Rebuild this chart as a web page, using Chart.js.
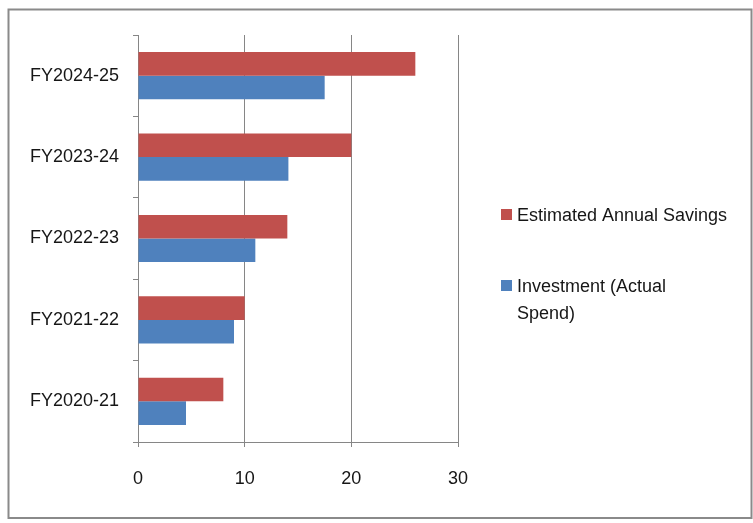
<!DOCTYPE html>
<html>
<head>
<meta charset="utf-8">
<script src="https://cdn.jsdelivr.net/npm/chart.js@4.4.1/dist/chart.umd.min.js"></script>
<style>
  html, body { margin: 0; padding: 0; background: #fff; }
  #wrap { position: relative; width: 753px; height: 523px; }
</style>
</head>
<body>
<div id="wrap"><canvas id="c" width="753" height="523"></canvas></div>
<script>
// Fiscal years, listed top to bottom as drawn
const categories = ['FY2024-25', 'FY2023-24', 'FY2022-23', 'FY2021-22', 'FY2020-21'];
// Estimated annual savings per year
const savings = [26, 20, 14, 10, 8];
// Investment (actual spend) per year
const investment = [17.5, 14.1, 11, 9, 4.5];
// Value axis ticks
const xTicks = [0, 10, 20, 30];

const FONT = '"Liberation Sans", Arial, sans-serif';
const TEXT = '#161616';
const GRID = '#868686';

// Outer frame around the whole chart
const framePlugin = {
  id: 'frame',
  beforeDraw(chart) {
    const ctx = chart.ctx;
    ctx.save();
    ctx.fillStyle = '#fff';
    ctx.fillRect(0, 0, chart.width, chart.height);
    ctx.strokeStyle = '#8a8a8a';
    ctx.lineWidth = 2;
    ctx.strokeRect(8.5, 9.5, 743, 508.5);
    ctx.restore();
  }
};

// Legend on the right; labels longer than the first entry wrap onto a new line
const sideLegend = {
  id: 'sideLegend',
  afterDraw(chart) {
    const ctx = chart.ctx;
    const x0 = 501, textX = 517, lineH = 27;
    const tops = [221, 292];
    ctx.save();
    ctx.font = '18px ' + FONT;
    ctx.textBaseline = 'alphabetic';
    const maxW = ctx.measureText(chart.data.datasets[0].label).width + 0.5;
    chart.data.datasets.forEach((ds, i) => {
      const words = ds.label.split(' ');
      const lines = [];
      let cur = '';
      words.forEach(w => {
        const t = cur ? cur + ' ' + w : w;
        if (ctx.measureText(t).width > maxW && cur) { lines.push(cur); cur = w; }
        else cur = t;
      });
      if (cur) lines.push(cur);
      const base = tops[i];
      ctx.fillStyle = ds.backgroundColor;
      ctx.fillRect(x0, base - 12, 11, 11);
      ctx.fillStyle = TEXT;
      lines.forEach((ln, k) => ctx.fillText(ln, textX, base + k * lineH));
    });
    ctx.restore();
  }
};

new Chart(document.getElementById('c'), {
  type: 'bar',
  data: {
    labels: categories,
    datasets: [
      { label: 'Estimated Annual Savings', data: savings, backgroundColor: '#C0504D',
        categoryPercentage: 0.58, barPercentage: 1.0 },
      { label: 'Investment (Actual Spend)', data: investment, backgroundColor: '#4F81BD',
        categoryPercentage: 0.58, barPercentage: 1.0 }
    ]
  },
  options: {
    indexAxis: 'y',
    responsive: false,
    animation: false,
    devicePixelRatio: 1,
    layout: { padding: { left: 0, right: 295, top: 35, bottom: 0 } },
    plugins: { legend: { display: false }, tooltip: { enabled: false } },
    scales: {
      x: {
        min: 0, max: 30,
        afterBuildTicks(scale) { scale.ticks = xTicks.map(v => ({ value: v })); },
        afterFit(scale) { scale.height = 81; },
        grid: { color: GRID, lineWidth: 1, tickLength: 5, drawTicks: true },
        border: { display: true, color: GRID, width: 1 },
        ticks: { color: TEXT, font: { family: FONT, size: 18 }, padding: 21 }
      },
      y: {
        afterFit(scale) { scale.width = 138; },
        grid: { drawOnChartArea: false, color: GRID, tickLength: 5, offset: true },
        border: { display: true, color: GRID, width: 1 },
        ticks: { color: TEXT, font: { family: FONT, size: 18 }, padding: 14 }
      }
    }
  },
  plugins: [framePlugin, sideLegend]
});
</script>
</body>
</html>
